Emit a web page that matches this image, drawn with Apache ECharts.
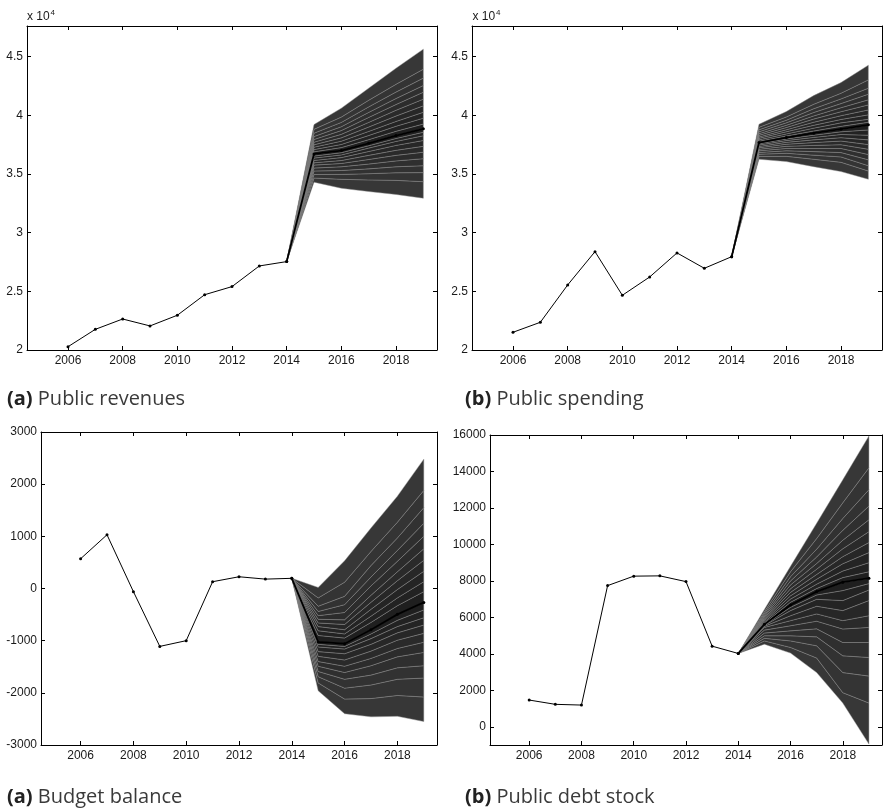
<!DOCTYPE html>
<html>
<head>
<meta charset="utf-8">
<script src="https://cdn.jsdelivr.net/npm/echarts@6/dist/echarts.min.js"></script>
<style>
html, body { margin: 0; padding: 0; background: #fff; }
#main { width: 883px; height: 811px; }
</style>
</head>
<body>
<div id="main"></div>
<script>
// years
var histYears = [2006, 2007, 2008, 2009, 2010, 2011, 2012, 2013, 2014];
var fanYears = [2015, 2016, 2017, 2018, 2019];
var yearTicks = [2006, 2008, 2010, 2012, 2014, 2016, 2018];

// public revenues (fan rows: bottom -> median (index 10) -> top)
var revHist = [20280, 21760, 22640, 22050, 22960, 24710, 25400, 27160, 27530];
var revFan2015 = [34300, 34650, 34950, 35250, 35500, 35750, 35950, 36150, 36350, 36520, 36700, 36880, 37070, 37280, 37480, 37700, 37930, 38180, 38470, 38800, 39200];
var revFan2016 = [33780, 34540, 34960, 35290, 35610, 35890, 36140, 36390, 36620, 36810, 36990, 37240, 37510, 37790, 38070, 38370, 38690, 39020, 39390, 39840, 40600];
var revFan2017 = [33500, 34490, 35020, 35430, 35840, 36230, 36580, 36910, 37200, 37400, 37610, 37920, 38270, 38620, 38990, 39390, 39810, 40240, 40710, 41270, 42300];
var revFan2018 = [33250, 34450, 35100, 35610, 36110, 36580, 37010, 37430, 37770, 38020, 38270, 38630, 39060, 39470, 39930, 40420, 40910, 41420, 41970, 42630, 44000];
var revFan2019 = [32930, 34340, 35110, 35700, 36300, 36850, 37350, 37850, 38250, 38550, 38840, 39250, 39750, 40250, 40800, 41370, 41960, 42530, 43160, 43920, 45630];

// public spending
var spendHist = [21510, 22360, 25540, 28380, 24660, 26220, 28270, 26960, 27950];
var spendFan2015 = [36250, 36490, 36680, 36830, 36970, 37100, 37230, 37340, 37460, 37570, 37670, 37780, 37900, 38030, 38150, 38290, 38430, 38590, 38760, 38970, 39230];
var spendFan2016 = [36050, 36500, 36760, 36970, 37170, 37350, 37530, 37690, 37840, 37980, 38100, 38240, 38410, 38590, 38760, 38950, 39140, 39350, 39570, 39850, 40310];
var spendFan2017 = [35620, 36250, 36600, 36900, 37170, 37430, 37670, 37900, 38110, 38300, 38470, 38660, 38900, 39140, 39400, 39670, 39940, 40230, 40550, 40930, 41670];
var spendFan2018 = [35200, 35990, 36450, 36820, 37170, 37490, 37800, 38090, 38360, 38590, 38810, 39050, 39350, 39640, 39960, 40300, 40640, 40990, 41390, 41870, 42780];
var spendFan2019 = [34550, 35250, 35700, 36200, 36650, 37100, 37500, 37900, 38300, 38750, 39180, 39400, 39650, 40030, 40450, 40880, 41310, 41790, 42300, 43010, 44260];

// budget balance
var balHist = [570, 1030, -60, -1110, -1000, 130, 225, 180, 195];
var balFan2015 = [-1960, -1810, -1690, -1590, -1490, -1400, -1300, -1210, -1120, -1070, -1026, -900, -810, -730, -660, -590, -520, -440, -340, -180, 20];
var balFan2016 = [-2400, -2120, -1910, -1740, -1610, -1490, -1370, -1250, -1160, -1110, -1058, -950, -870, -790, -690, -600, -460, -310, -150, 120, 530];
var balFan2017 = [-2460, -2110, -1850, -1660, -1480, -1340, -1200, -1070, -960, -870, -790, -650, -530, -400, -265, -130, 50, 220, 440, 710, 1160];
var balFan2018 = [-2450, -2050, -1740, -1520, -1310, -1150, -990, -850, -730, -610, -496, -330, -180, -20, 150, 320, 520, 730, 970, 1270, 1770];
var balFan2019 = [-2550, -2080, -1716, -1480, -1225, -1030, -860, -700, -560, -410, -266, -60, 130, 330, 540, 760, 1000, 1250, 1550, 1880, 2480];

// public debt stock
var debtHist = [1465, 1230, 1190, 7740, 8260, 8275, 7960, 4420, 4020];
var debtFan2015 = [4530, 4710, 4850, 4990, 5140, 5300, 5450, 5510, 5560, 5590, 5616, 5680, 5750, 5820, 5890, 5960, 6040, 6120, 6210, 6310, 6437];
var debtFan2016 = [4040, 4350, 4710, 4990, 5260, 5540, 5820, 6090, 6370, 6550, 6679, 6830, 7000, 7180, 7370, 7570, 7780, 8000, 8230, 8500, 8800];
var debtFan2017 = [2970, 3770, 4440, 4930, 5370, 5790, 6190, 6610, 6990, 7230, 7411, 7580, 7820, 8090, 8350, 8640, 8950, 9310, 9740, 10320, 11160];
var debtFan2018 = [1300, 1870, 2970, 3890, 4620, 5360, 5820, 6370, 6920, 7470, 7929, 8180, 8540, 8940, 9330, 9760, 10230, 10770, 11420, 12280, 13540];
var debtFan2019 = [-950, 1300, 2780, 3800, 4620, 5450, 6090, 6920, 7500, 7850, 8149, 8500, 9000, 9550, 10100, 10700, 11350, 12100, 13000, 14200, 15950];

// y tick values
var levelTicks = [20000, 25000, 30000, 35000, 40000, 45000];
var balTicks = [-3000, -2000, -1000, 0, 1000, 2000, 3000];
var debtTicks = [0, 2000, 4000, 6000, 8000, 10000, 12000, 14000, 16000];

var MEDIAN = 10;
var tickFont = 'Liberation Sans';

var panels = [
    {grid: {left: 27, top: 26, width: 410, height: 324}, hist: revHist,
        fans: [revFan2015, revFan2016, revFan2017, revFan2018, revFan2019],
        ymin: 20000, ymax: 47600, ticks: levelTicks, scale: 10000},
    {grid: {left: 472, top: 26, width: 410, height: 324}, hist: spendHist,
        fans: [spendFan2015, spendFan2016, spendFan2017, spendFan2018, spendFan2019],
        ymin: 20000, ymax: 47600, ticks: levelTicks, scale: 10000},
    {grid: {left: 41, top: 432, width: 396, height: 313}, hist: balHist,
        fans: [balFan2015, balFan2016, balFan2017, balFan2018, balFan2019],
        ymin: -3000, ymax: 3000, ticks: balTicks, scale: 1},
    {grid: {left: 490, top: 435, width: 392, height: 310}, hist: debtHist,
        fans: [debtFan2015, debtFan2016, debtFan2017, debtFan2018, debtFan2019],
        ymin: -1000, ymax: 16000, ticks: debtTicks, scale: 1}
];

/**
 * band colour: darker near the median
 */
function bandColor (b, nBands) {
    var half = nBands / 2;
    var d = b < half ? (half - 1 - b) : (b - half);
    var g = Math.round(0x1f + (0x37 - 0x1f) * d / (half - 1));
    var h = g.toString(16);
    return '#' + h + h + h;
}

function frameAxis (pos, gi, p, isX) {
    var ax = {
        gridIndex: gi,
        type: 'value',
        position: pos,
        min: isX ? 2004.5 : p.ymin,
        max: isX ? 2019.5 : p.ymax,
        axisLine: {show: true, onZero: false, lineStyle: {color: '#000', width: 1}},
        axisTick: {show: true, inside: true, length: 4, customValues: isX ? yearTicks : p.ticks,
            lineStyle: {color: '#000', width: 1}},
        axisLabel: {show: false},
        splitLine: {show: false}
    };
    return ax;
}

var grids = [], xAxes = [], yAxes = [], series = [];

panels.forEach(function (p, gi) {
    grids.push(p.grid);

    var xb = frameAxis('bottom', gi, p, true);
    xb.axisLabel = {show: true, customValues: yearTicks, margin: 5, fontSize: 12,
        fontFamily: tickFont, color: '#1a1a1a',
        formatter: function (v) { return String(v); }};
    xAxes.push(xb, frameAxis('top', gi, p, true));

    var yl = frameAxis('left', gi, p, false);
    yl.axisLabel = {show: true, customValues: p.ticks, margin: 4, fontSize: 12,
        fontFamily: tickFont, color: '#1a1a1a',
        formatter: function (v) { return String(v / p.scale); }};
    yAxes.push(yl, frameAxis('right', gi, p, false));

    var last = p.hist[p.hist.length - 1];
    var fans = p.fans;
    var nBands = fans[0].length - 1;
    var bandData = [];
    for (var b = 0; b < nBands; b++) {
        bandData.push([2019, fans[4][b]]);
    }

    // fan bands
    series.push({
        type: 'custom',
        xAxisIndex: gi * 2,
        yAxisIndex: gi * 2,
        clip: true,
        silent: true,
        z: 1,
        data: bandData,
        renderItem: function (params, api) {
            var b = params.dataIndex;
            var pts = [api.coord([2014, last])];
            var k;
            for (k = 0; k < fanYears.length; k++) {
                pts.push(api.coord([fanYears[k], fans[k][b]]));
            }
            for (k = fanYears.length - 1; k >= 0; k--) {
                pts.push(api.coord([fanYears[k], fans[k][b + 1]]));
            }
            return {
                type: 'polygon',
                shape: {points: pts},
                style: {fill: bandColor(b, nBands), stroke: '#8a8a8a', lineWidth: 0.45}
            };
        }
    });

    // median forecast
    var med = [[2014, last]];
    fanYears.forEach(function (y, k) { med.push([y, fans[k][MEDIAN]]); });
    series.push({
        type: 'line',
        xAxisIndex: gi * 2,
        yAxisIndex: gi * 2,
        data: med,
        z: 3,
        symbol: 'circle',
        symbolSize: 3,
        itemStyle: {color: '#000'},
        lineStyle: {color: '#000', width: 1.8}
    });

    // history
    series.push({
        type: 'line',
        xAxisIndex: gi * 2,
        yAxisIndex: gi * 2,
        data: histYears.map(function (y, i) { return [y, p.hist[i]]; }),
        z: 4,
        symbol: 'circle',
        symbolSize: 3,
        itemStyle: {color: '#000'},
        lineStyle: {color: '#000', width: 1}
    });
});

var capStyle = {
    fontFamily: 'Open Sans',
    fontSize: 20,
    fontWeight: 'normal',
    color: '#3a3a3a',
    lineHeight: 24,
    rich: {
        b: {fontFamily: 'Open Sans', fontSize: 20, fontWeight: 'bold', color: '#222', lineHeight: 24}
    }
};

var chart = echarts.init(document.getElementById('main'));
chart.setOption({
    animation: false,
    backgroundColor: '#fff',
    title: [
        {text: '{b|(a)} Public revenues', left: 7, top: 387, padding: 0, textStyle: capStyle},
        {text: '{b|(b)} Public spending', left: 465, top: 387, padding: 0, textStyle: capStyle},
        {text: '{b|(a)} Budget balance', left: 7, top: 785, padding: 0, textStyle: capStyle},
        {text: '{b|(b)} Public debt stock', left: 465, top: 785, padding: 0, textStyle: capStyle}
    ],
    graphic: [
        {type: 'text', left: 27, top: 11, style: {text: 'x 10', font: '12px "Liberation Sans"', fill: '#1a1a1a'}},
        {type: 'text', left: 50.5, top: 9, style: {text: '4', font: '8px "Liberation Sans"', fill: '#1a1a1a'}},
        {type: 'text', left: 472.5, top: 11, style: {text: 'x 10', font: '12px "Liberation Sans"', fill: '#1a1a1a'}},
        {type: 'text', left: 496, top: 9, style: {text: '4', font: '8px "Liberation Sans"', fill: '#1a1a1a'}}
    ],
    grid: grids,
    xAxis: xAxes,
    yAxis: yAxes,
    series: series
});
</script>
</body>
</html>
